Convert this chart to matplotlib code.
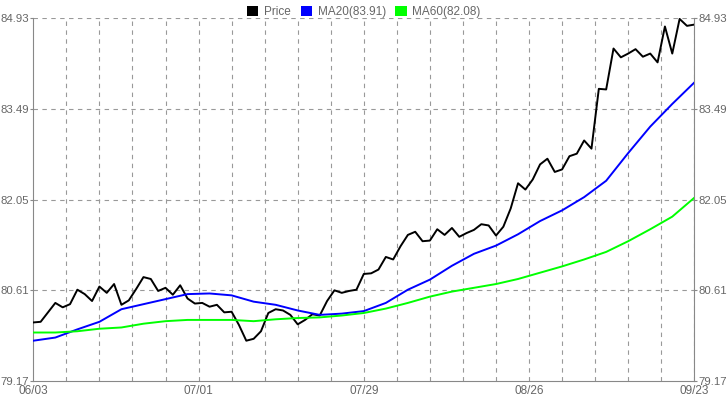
import matplotlib
matplotlib.use('Agg')
import matplotlib.pyplot as plt
from matplotlib.patches import Patch

# closing prices, one per point (91 points, 06/03 .. 09/23)
price = [80.10, 80.11, 80.26, 80.41, 80.34, 80.39, 80.62, 80.55, 80.44, 80.67,
         80.57, 80.71, 80.38, 80.45, 80.63, 80.82, 80.79, 80.60, 80.65, 80.54,
         80.69, 80.48, 80.40, 80.41, 80.35, 80.38, 80.26, 80.27, 80.06, 79.81,
         79.84, 79.96, 80.25, 80.31, 80.29, 80.22, 80.07, 80.14, 80.23, 80.21,
         80.44, 80.61, 80.57, 80.60, 80.62, 80.87, 80.88, 80.94, 81.14, 81.10,
         81.31, 81.49, 81.54, 81.39, 81.40, 81.58, 81.49, 81.60, 81.46, 81.52,
         81.57, 81.66, 81.64, 81.48, 81.62, 81.91, 82.31, 82.21, 82.37, 82.61,
         82.70, 82.49, 82.53, 82.74, 82.78, 82.99, 82.86, 83.81, 83.80, 84.45,
         84.31, 84.37, 84.44, 84.32, 84.37, 84.23, 84.80, 84.37, 84.92, 84.81,
         84.83]

# moving averages every 3 points
ma_idx = list(range(0, 91, 3))
ma20 = [79.81, 79.86, 79.99, 80.11, 80.31, 80.39, 80.47, 80.55, 80.56, 80.53,
        80.43, 80.38, 80.29, 80.22, 80.24, 80.28, 80.41, 80.62, 80.78, 81.00,
        81.19, 81.32, 81.50, 81.71, 81.88, 82.09, 82.35, 82.79, 83.21, 83.57,
        83.91]
ma60 = [79.94, 79.94, 79.96, 80.00, 80.02, 80.08, 80.12, 80.14, 80.14, 80.14,
        80.12, 80.15, 80.17, 80.18, 80.21, 80.25, 80.32, 80.41, 80.51, 80.59,
        80.65, 80.71, 80.79, 80.89, 80.99, 81.10, 81.22, 81.39, 81.58, 81.78,
        82.08]

yticks = [79.17, 80.61, 82.05, 83.49, 84.93]
xtick_labels = ['06/03', '07/01', '07/29', '08/26', '09/23']

plt.rcParams['font.family'] = ['Liberation Sans', 'DejaVu Sans']

fig = plt.figure(figsize=(7.28, 4.0), dpi=100)
ax = fig.add_axes([33.3 / 728, 19 / 400, 661 / 728, 362.7 / 400])

n = len(price)
x = list(range(n))
ax.plot(x, price, color='black', lw=1.4, zorder=3)
ax.plot(ma_idx, ma20, color='#0000ff', lw=1.4, zorder=3)
ax.plot(ma_idx, ma60, color='#00ff00', lw=1.4, zorder=3)

ax.set_xlim(0, n - 1)
ax.set_ylim(yticks[0], yticks[-1])

# 20 vertical grid divisions, labels on every 5th
step = (n - 1) / 20
for k in range(1, 21):
    ax.axvline(k * step, color='#999999', lw=0.8, ls=(0, (4, 4)), zorder=1)
for v in yticks[1:]:
    ax.axhline(v, color='#999999', lw=0.8, ls=(0, (4, 4)), zorder=1)

ax.set_xticks([k * step * 5 for k in range(5)])
ax.set_xticklabels(xtick_labels)
ax.set_yticks(yticks)
ax.set_yticklabels(['%.2f' % v for v in yticks])
ax.tick_params(axis='y', left=True, right=True, labelleft=True, labelright=True,
               length=2.5, width=0.8, color='#888888', labelcolor='#666666',
               labelsize=8.2, pad=0.8)
ax.tick_params(axis='x', length=0, labelcolor='#666666', labelsize=8.5, pad=3)

for side in ['left', 'right', 'bottom']:
    ax.spines[side].set_color('#888888')
    ax.spines[side].set_linewidth(0.8)
ax.spines['top'].set_visible(False)

handles = [Patch(facecolor='black', edgecolor='none', label='Price'),
           Patch(facecolor='#0000ff', edgecolor='none', label='MA20(83.91)'),
           Patch(facecolor='#00ff00', edgecolor='none', label='MA60(82.08)')]
leg = fig.legend(handles=handles, loc='upper center', bbox_to_anchor=(0.5, 1.012),
                 ncol=3, frameon=False, fontsize=8.5, handlelength=0.95,
                 handleheight=0.95, handletextpad=0.5, columnspacing=0.8)
for t in leg.get_texts():
    t.set_color('#666666')

fig.savefig('out.png', dpi=100)
